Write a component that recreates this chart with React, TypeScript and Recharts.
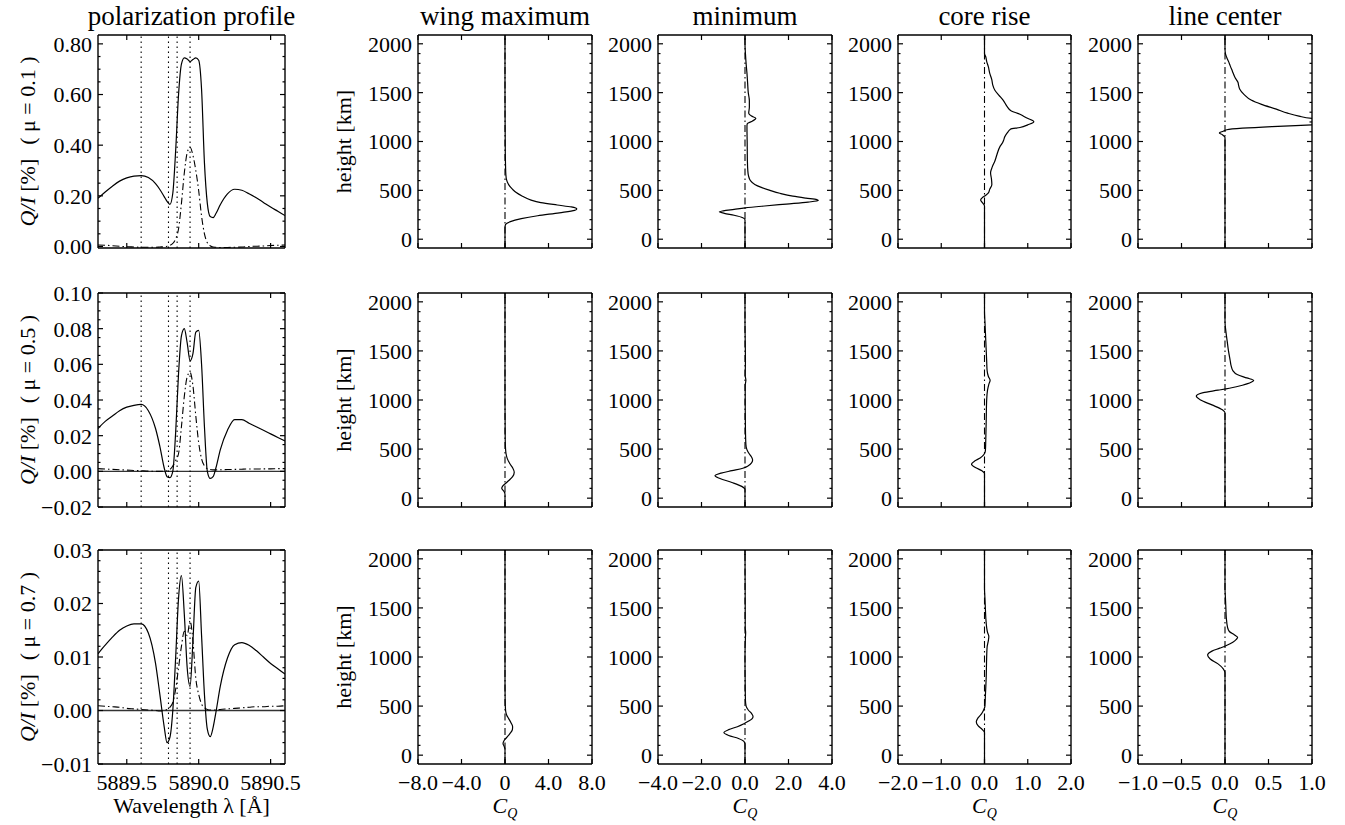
import React from 'react';
import { ScatterChart, Scatter, XAxis, YAxis, ReferenceLine } from 'recharts';

const FONT = '"Liberation Serif", "Times New Roman", Times, serif';

// ---------------- polarization profiles ----------------
const wavelengths = [5889.30, 5889.35, 5889.40, 5889.45, 5889.50, 5889.55, 5889.60, 5889.65, 5889.70, 5889.73,
  5889.76, 5889.78, 5889.80, 5889.82, 5889.84, 5889.86, 5889.88, 5889.90, 5889.92, 5889.94,
  5889.96, 5889.98, 5890.00, 5890.02, 5890.04, 5890.06, 5890.08, 5890.10, 5890.12, 5890.15,
  5890.20, 5890.25, 5890.30, 5890.35, 5890.40, 5890.45, 5890.50, 5890.55, 5890.60];

const qiMu01 = [0.190, 0.215, 0.238, 0.258, 0.271, 0.278, 0.280, 0.272, 0.248, 0.225,
  0.197, 0.178, 0.166, 0.210, 0.380, 0.600, 0.720, 0.745, 0.740, 0.730,
  0.738, 0.745, 0.735, 0.620, 0.330, 0.170, 0.118, 0.114, 0.130, 0.165,
  0.208, 0.226, 0.222, 0.208, 0.192, 0.174, 0.156, 0.139, 0.122];
const qiMu01Dash = [0.006, 0.005, 0.003, 0.001, -0.001, -0.002, -0.003, -0.003, -0.003, -0.002,
  -0.001, 0.001, 0.004, 0.012, 0.030, 0.070, 0.170, 0.290, 0.370, 0.392,
  0.360, 0.300, 0.220, 0.120, 0.050, 0.015, 0.003, -0.002, -0.003, -0.004,
  -0.004, -0.003, -0.002, 0.000, 0.001, 0.002, 0.004, 0.005, 0.006];

const qiMu05 = [0.024, 0.028, 0.031, 0.034, 0.036, 0.037, 0.0375, 0.034, 0.024, 0.014,
  0.002, -0.003, -0.0035, 0.000, 0.022, 0.055, 0.076, 0.080, 0.072, 0.062,
  0.066, 0.078, 0.079, 0.060, 0.025, 0.000, -0.004, -0.003, 0.002, 0.012,
  0.023, 0.029, 0.029, 0.027, 0.025, 0.023, 0.021, 0.019, 0.017];
const qiMu05Dash = [0.0015, 0.0013, 0.0011, 0.0009, 0.0007, 0.0005, 0.0003, 0.0001, 0.0, 0.0,
  0.0001, 0.0003, 0.001, 0.003, 0.006, 0.010, 0.025, 0.042, 0.053, 0.0555,
  0.048, 0.031, 0.016, 0.007, 0.003, 0.0015, 0.001, 0.0008, 0.0008, 0.0009,
  0.001, 0.0011, 0.0012, 0.0013, 0.0013, 0.0014, 0.0014, 0.0015, 0.0015];

const qiMu07 = [0.0106, 0.0122, 0.0137, 0.0150, 0.0158, 0.0162, 0.0162, 0.0145, 0.0088, 0.0030,
  -0.0030, -0.0060, -0.0050, 0.0000, 0.0100, 0.0210, 0.0252, 0.0180, 0.0080, 0.0045,
  0.0130, 0.0230, 0.0242, 0.0140, 0.0030, -0.0035, -0.0049, -0.0032, -0.0003, 0.0045,
  0.0098, 0.0123, 0.0127, 0.0122, 0.0112, 0.0100, 0.0088, 0.0078, 0.0068];
const qiMu07Dash = [0.0009, 0.0008, 0.0007, 0.0006, 0.0004, 0.0003, 0.0002, 0.0001, 0.0000, -0.0001,
  0.0000, 0.0002, 0.0006, 0.0015, 0.0040, 0.0080, 0.0120, 0.0148, 0.0140, 0.0168,
  0.0130, 0.0060, 0.0030, 0.0012, 0.0005, 0.0002, 0.0001, 0.0001, 0.0001, 0.0002,
  0.0003, 0.0004, 0.0005, 0.0006, 0.0007, 0.0007, 0.0008, 0.0008, 0.0009];

const markerWavelengths = [5889.60, 5889.79, 5889.85, 5889.94];
const muLabels = ['0.1', '0.5', '0.7'];

// ---------------- tick values & labels ----------------
const wlTicks = [5889.5, 5890.0, 5890.5];
const wlTickLabels = ['5889.5', '5890.0', '5890.5'];
const qiTicks = [
  [0, 0.2, 0.4, 0.6, 0.8],
  [-0.02, 0, 0.02, 0.04, 0.06, 0.08, 0.10],
  [-0.01, 0, 0.01, 0.02, 0.03],
];
const qiTickLabels = [
  ['0.00', '0.20', '0.40', '0.60', '0.80'],
  ['\u22120.02', '0.00', '0.02', '0.04', '0.06', '0.08', '0.10'],
  ['\u22120.01', '0.00', '0.01', '0.02', '0.03'],
];
const qiDomains: [number, number][] = [[-0.006, 0.835], [-0.02, 0.10], [-0.01, 0.03]];
const qiMinorStep = [0.05, 0.005, 0.002];

const heightTicks = [0, 500, 1000, 1500, 2000];
const heightTickLabels = ['0', '500', '1000', '1500', '2000'];
const heightDomain: [number, number] = [-90, 2090];
const cqTicks = [[-8, -4, 0, 4, 8], [-4, -2, 0, 2, 4], [-2, -1, 0, 1, 2], [-1, -0.5, 0, 0.5, 1]];
const cqTickLabels = [
  ['\u22128.0', '\u22124.0', '0', '4.0', '8.0'],
  ['\u22124.0', '\u22122.0', '0.0', '2.0', '4.0'],
  ['\u22122.0', '\u22121.0', '0.0', '1.0', '2.0'],
  ['\u22121.0', '\u22120.5', '0.0', '0.5', '1.0'],
];
const titles = ['polarization profile', 'wing maximum', 'minimum', 'core rise', 'line center'];

// ---------------- contribution functions (height [km], C_Q) ----------------
const wingMax1H = [-90, 100, 130, 150, 180, 210, 240, 270, 295, 310, 330, 350, 375, 400, 440, 480, 510, 540, 570, 610, 660, 750, 850, 1000, 1200, 1500, 2090];
const wingMax1C = [0, 0, 0.01, 0.05, 0.5, 1.5, 3.0, 5.0, 6.4, 6.6, 6.1, 4.8, 3.3, 2.4, 1.6, 1.0, 0.7, 0.45, 0.28, 0.14, 0.08, 0.05, 0.03, 0.02, 0.01, 0, 0];
const minimum1H = [-90, 180, 200, 220, 245, 265, 280, 290, 305, 320, 340, 360, 380, 395, 405, 420, 440, 470, 500, 530, 560, 600, 650, 700, 800, 1000, 1150, 1180, 1210, 1237, 1260, 1290, 1350, 1420, 1500, 1600, 1700, 1800, 1900, 2000, 2090];
const minimum1C = [0, 0, 0, -0.1, -0.5, -0.95, -1.18, -1.0, -0.5, 0.0, 0.9, 1.9, 2.9, 3.37, 3.3, 2.8, 2.2, 1.6, 1.15, 0.75, 0.45, 0.25, 0.16, 0.13, 0.11, 0.1, 0.09, 0.1, 0.35, 0.5, 0.3, 0.17, 0.2, 0.2, 0.15, 0.12, 0.09, 0.05, 0.02, 0, 0];
const coreRise1H = [-90, 340, 370, 400, 425, 450, 475, 510, 560, 620, 680, 740, 800, 870, 950, 990, 1010, 1050, 1090, 1126, 1143, 1170, 1203, 1240, 1279, 1313, 1360, 1424, 1475, 1525, 1580, 1630, 1700, 1763, 1820, 1865, 1900, 2090];
const coreRise1C = [0, 0, -0.04, -0.09, -0.05, 0.03, 0.09, 0.12, 0.17, 0.16, 0.14, 0.18, 0.24, 0.29, 0.36, 0.42, 0.44, 0.47, 0.53, 0.6, 0.82, 1.0, 1.14, 0.98, 0.82, 0.62, 0.52, 0.43, 0.33, 0.24, 0.19, 0.17, 0.12, 0.09, 0.05, 0.03, 0, 0];
const lineCenter1H = [-90, 1040, 1070, 1088, 1105, 1120, 1136, 1153, 1170, 1190, 1210, 1225, 1237, 1260, 1290, 1331, 1380, 1424, 1480, 1535, 1580, 1604, 1655, 1720, 1774, 1820, 1860, 1900, 1950, 2090];
const lineCenter1C = [0, 0, -0.03, -0.065, -0.02, 0.02, 0.2, 0.54, 1.0, 1.5, 1.6, 1.3, 1.0, 0.85, 0.72, 0.59, 0.42, 0.3, 0.22, 0.17, 0.155, 0.15, 0.115, 0.085, 0.06, 0.04, 0.02, 0.005, 0, 0];

const wingMax2H = [-90, 40, 70, 100, 125, 150, 180, 220, 265, 310, 350, 400, 450, 500, 600, 800, 1000, 2090];
const wingMax2C = [0, 0, -0.1, -0.3, -0.2, 0.05, 0.35, 0.7, 0.85, 0.7, 0.45, 0.22, 0.1, 0.05, 0.02, 0.01, 0, 0];
const minimum2H = [-90, 90, 120, 160, 200, 228, 255, 280, 305, 330, 360, 390, 420, 460, 500, 550, 700, 1000, 1150, 1200, 1250, 1400, 1600, 1800, 2090];
const minimum2C = [0, 0, -0.15, -0.6, -1.15, -1.38, -1.1, -0.6, -0.1, 0.15, 0.3, 0.35, 0.3, 0.17, 0.08, 0.04, 0.02, 0.01, 0.01, 0.04, 0.01, 0.02, 0.01, 0, 0];
const coreRise2H = [-90, 250, 280, 310, 345, 380, 410, 440, 480, 600, 800, 1000, 1100, 1160, 1200, 1240, 1300, 1400, 1500, 1600, 1700, 1800, 1900, 2090];
const coreRise2C = [0, 0, -0.06, -0.2, -0.3, -0.22, -0.1, -0.02, 0.02, 0.03, 0.04, 0.05, 0.07, 0.1, 0.13, 0.09, 0.06, 0.05, 0.04, 0.03, 0.02, 0.01, 0, 0];
const lineCenter2H = [-90, 870, 900, 950, 1000, 1040, 1075, 1100, 1120, 1150, 1180, 1200, 1225, 1260, 1300, 1350, 1400, 1500, 1600, 1700, 1800, 2090];
const lineCenter2C = [0, 0, -0.03, -0.15, -0.28, -0.33, -0.25, -0.08, 0.05, 0.2, 0.3, 0.33, 0.25, 0.14, 0.09, 0.07, 0.06, 0.04, 0.025, 0.01, 0, 0];

const wingMax3H = [-90, 60, 90, 120, 150, 180, 220, 260, 290, 330, 370, 410, 450, 500, 600, 800, 2090];
const wingMax3C = [0, 0, -0.08, -0.18, -0.08, 0.15, 0.45, 0.68, 0.7, 0.55, 0.35, 0.15, 0.06, 0.03, 0.01, 0, 0];
const minimum3H = [-90, 110, 140, 170, 200, 230, 260, 290, 320, 345, 370, 395, 425, 460, 500, 560, 700, 1000, 1200, 1250, 1300, 1500, 2090];
const minimum3C = [0, 0, -0.05, -0.3, -0.75, -0.97, -0.75, -0.35, -0.05, 0.15, 0.32, 0.37, 0.3, 0.15, 0.05, 0.02, 0.01, 0, 0.02, 0.03, 0.01, 0.01, 0];
const coreRise3H = [-90, 230, 260, 300, 340, 380, 420, 460, 500, 600, 800, 1000, 1100, 1170, 1210, 1250, 1300, 1400, 1500, 1600, 1700, 2090];
const coreRise3C = [0, 0, -0.05, -0.15, -0.19, -0.15, -0.07, -0.02, 0.01, 0.02, 0.04, 0.05, 0.06, 0.09, 0.1, 0.07, 0.05, 0.03, 0.02, 0.01, 0, 0];
const lineCenter3H = [-90, 840, 880, 930, 980, 1020, 1060, 1090, 1115, 1150, 1180, 1200, 1225, 1260, 1300, 1400, 1500, 1600, 1700, 2090];
const lineCenter3C = [0, 0, -0.02, -0.08, -0.17, -0.2, -0.15, -0.06, 0.01, 0.09, 0.13, 0.145, 0.11, 0.05, 0.03, 0.015, 0.01, 0.005, 0, 0];

// second (dash-dotted) component, essentially zero at all heights
const ddHeights = [-90, 300, 600, 900, 1200, 1500, 1800, 2090];
const ddValues = [0, 0, 0, 0, 0, 0, 0, 0];

// ---------------- layout ----------------
const COL_LEFT = [98, 418, 658, 898, 1138];
const COL_W = [187, 174, 174, 173, 174];
const ROW_TOP = [35, 293, 550];
const ROW_H = [213, 214, 214];

type Pt = { x: number; y: number };
const profilePts = (vals: number[]): Pt[] => wavelengths.map((w, i) => ({ x: w, y: vals[i] }));
const heightPts = (hs: number[], cs: number[]): Pt[] => hs.map((h, i) => ({ x: cs[i], y: h }));

const minorTicks = (lo: number, hi: number, step: number, majors: number[]) => {
  const out: number[] = [];
  const n0 = Math.ceil(lo / step - 1e-9);
  const n1 = Math.floor(hi / step + 1e-9);
  for (let n = n0; n <= n1; n++) {
    const v = +(n * step).toFixed(6);
    if (!majors.some((m) => Math.abs(m - v) < 1e-9)) out.push(v);
  }
  return out;
};

type Side = 'left' | 'right' | 'top' | 'bottom';
function tickRenderer(side: Side, majors: number[], labels: string[] | null) {
  return (props: any) => {
    const { x, y, payload } = props;
    const v = Number(payload && payload.value);
    const idx = majors.findIndex((m) => Math.abs(m - v) < 1e-9);
    const len = idx >= 0 ? 5 : 2.5;
    let x2 = x;
    let y2 = y;
    if (side === 'left') x2 = x + len;
    else if (side === 'right') x2 = x - len;
    else if (side === 'bottom') y2 = y - len;
    else y2 = y + len;
    let label: React.ReactNode = null;
    if (labels && idx >= 0) {
      if (side === 'left') {
        label = (
          <text x={x - 6} y={y} dy="0.36em" textAnchor="end" fontFamily={FONT} fontSize={22} fill="#000">
            {labels[idx]}
          </text>
        );
      } else if (side === 'bottom') {
        label = (
          <text x={x} y={y + 26} textAnchor="middle" fontFamily={FONT} fontSize={22} fill="#000">
            {labels[idx]}
          </text>
        );
      }
    }
    return (
      <g>
        <line x1={x} y1={y} x2={x2} y2={y2} stroke="#000" strokeWidth={1.2} />
        {label}
      </g>
    );
  };
}

const noShape = () => <g />;

interface PanelProps {
  left: number;
  top: number;
  w: number;
  h: number;
  xDomain: [number, number];
  yDomain: [number, number];
  xMajor: number[];
  xLabels: string[] | null;
  yMajor: number[];
  yMinor: number[];
  yLabels: string[];
  solid: Pt[];
  dash: Pt[];
  vlines?: number[];
  zeroLine?: boolean;
  joint: 'monotoneX' | 'monotoneY';
}

function Panel(p: PanelProps) {
  const ML = 80;
  const MR = 36;
  const MT = 12;
  const MB = 44;
  const axisStyle = { stroke: '#000', strokeWidth: 1.4 };
  const yTicks = [...p.yMajor, ...p.yMinor];
  return (
    <div style={{ position: 'absolute', left: p.left - ML, top: p.top - MT }}>
      <ScatterChart width={ML + p.w + MR} height={MT + p.h + MB} margin={{ top: 0, right: 0, bottom: 0, left: 0 }}>
        <XAxis xAxisId="b" type="number" dataKey="x" orientation="bottom" domain={p.xDomain} allowDataOverflow
          ticks={p.xMajor} interval={0} height={MB} tickSize={0} tickMargin={0} tickLine={false}
          axisLine={axisStyle} tick={tickRenderer('bottom', p.xMajor, p.xLabels)} />
        <XAxis xAxisId="t" type="number" dataKey="x" orientation="top" domain={p.xDomain} allowDataOverflow
          ticks={p.xMajor} interval={0} height={MT} tickSize={0} tickMargin={0} tickLine={false}
          axisLine={axisStyle} tick={tickRenderer('top', p.xMajor, null)} />
        <YAxis yAxisId="l" type="number" dataKey="y" orientation="left" domain={p.yDomain} allowDataOverflow
          ticks={yTicks} interval={0} width={ML} tickSize={0} tickMargin={0} tickLine={false}
          axisLine={axisStyle} tick={tickRenderer('left', p.yMajor, p.yLabels)} />
        <YAxis yAxisId="r" type="number" dataKey="y" orientation="right" domain={p.yDomain} allowDataOverflow
          ticks={yTicks} interval={0} width={MR} tickSize={0} tickMargin={0} tickLine={false}
          axisLine={axisStyle} tick={tickRenderer('right', p.yMajor, null)} />
        {p.zeroLine && (
          <ReferenceLine xAxisId="b" yAxisId="l" y={0} stroke="#333" strokeWidth={1.3} />
        )}
        {(p.vlines || []).map((v) => (
          <ReferenceLine key={v} xAxisId="b" yAxisId="l" x={v} stroke="#000" strokeWidth={1.1} strokeDasharray="1.5 3.5" />
        ))}
        <Scatter xAxisId="b" yAxisId="l" data={p.dash} line={{ stroke: '#000', strokeWidth: 1.1, strokeDasharray: '7 3 1.5 3' }}
          lineJointType={p.joint} shape={noShape} isAnimationActive={false} legendType="none" />
        <Scatter xAxisId="b" yAxisId="l" data={p.solid} line={{ stroke: '#000', strokeWidth: 1.2 }}
          lineJointType={p.joint} shape={noShape} isAnimationActive={false} legendType="none" />
      </ScatterChart>
    </div>
  );
}

const profileSolid = [qiMu01, qiMu05, qiMu07];
const profileDash = [qiMu01Dash, qiMu05Dash, qiMu07Dash];
const heightSeries: [number[], number[]][][] = [
  [[wingMax1H, wingMax1C], [minimum1H, minimum1C], [coreRise1H, coreRise1C], [lineCenter1H, lineCenter1C]],
  [[wingMax2H, wingMax2C], [minimum2H, minimum2C], [coreRise2H, coreRise2C], [lineCenter2H, lineCenter2C]],
  [[wingMax3H, wingMax3C], [minimum3H, minimum3C], [coreRise3H, coreRise3C], [lineCenter3H, lineCenter3C]],
];

export default function App() {
  const panels: React.ReactNode[] = [];
  for (let r = 0; r < 3; r++) {
    panels.push(
      <Panel key={`p${r}`} left={COL_LEFT[0]} top={ROW_TOP[r]} w={COL_W[0]} h={ROW_H[r]}
        xDomain={[5889.3, 5890.6]} yDomain={qiDomains[r]}
        xMajor={wlTicks} xLabels={r === 2 ? wlTickLabels : null}
        yMajor={qiTicks[r]} yMinor={minorTicks(qiDomains[r][0], qiDomains[r][1], qiMinorStep[r], qiTicks[r])}
        yLabels={qiTickLabels[r]}
        solid={profilePts(profileSolid[r])} dash={profilePts(profileDash[r])}
        vlines={markerWavelengths} zeroLine={r > 0} joint="monotoneX" />
    );
    for (let c = 0; c < 4; c++) {
      const [hs, cs] = heightSeries[r][c];
      const tk = cqTicks[c];
      panels.push(
        <Panel key={`h${r}${c}`} left={COL_LEFT[c + 1]} top={ROW_TOP[r]} w={COL_W[c + 1]} h={ROW_H[r]}
          xDomain={[tk[0], tk[tk.length - 1]]} yDomain={heightDomain}
          xMajor={tk} xLabels={r === 2 ? cqTickLabels[c] : null}
          yMajor={heightTicks} yMinor={minorTicks(heightDomain[0], heightDomain[1], 100, heightTicks)}
          yLabels={heightTickLabels}
          solid={heightPts(hs, cs)} dash={heightPts(ddHeights, ddValues)} joint="monotoneY" />
      );
    }
  }

  const colCenter = (i: number) => COL_LEFT[i] + COL_W[i] / 2;
  const rowCenter = (r: number) => ROW_TOP[r] + ROW_H[r] / 2;

  return (
    <div style={{ position: 'absolute', left: 0, top: 0, width: 1345, height: 825, background: '#fff', overflow: 'hidden' }}>
      {panels}
      <svg width={1345} height={825} style={{ position: 'absolute', left: 0, top: 0, pointerEvents: 'none' }}>
        <g fontFamily={FONT} fill="#000">
          {titles.map((t, i) => (
            <text key={t} x={colCenter(i)} y={25} textAnchor="middle" fontSize={27}>{t}</text>
          ))}
          {muLabels.map((m, r) => (
            <text key={m} transform={`translate(35, ${rowCenter(r)}) rotate(-90)`} textAnchor="middle" fontSize={22}>
              <tspan fontStyle="italic">Q/I</tspan>
              <tspan> [%]</tspan>
              <tspan dx={14}>{`( \u03bc = ${m} )`}</tspan>
            </text>
          ))}
          {[0, 1, 2].map((r) => (
            <text key={`hk${r}`} transform={`translate(351, ${rowCenter(r)}) rotate(-90)`} textAnchor="middle" fontSize={22}>
              height [km]
            </text>
          ))}
          <text x={colCenter(0)} y={813} textAnchor="middle" fontSize={22}>Wavelength λ [Å]</text>
          {[1, 2, 3, 4].map((i) => (
            <text key={`cq${i}`} x={colCenter(i)} y={813} textAnchor="middle" fontSize={22}>
              <tspan fontStyle="italic">C</tspan>
              <tspan fontStyle="italic" fontSize={14} dy={5}>Q</tspan>
            </text>
          ))}
        </g>
      </svg>
    </div>
  );
}
